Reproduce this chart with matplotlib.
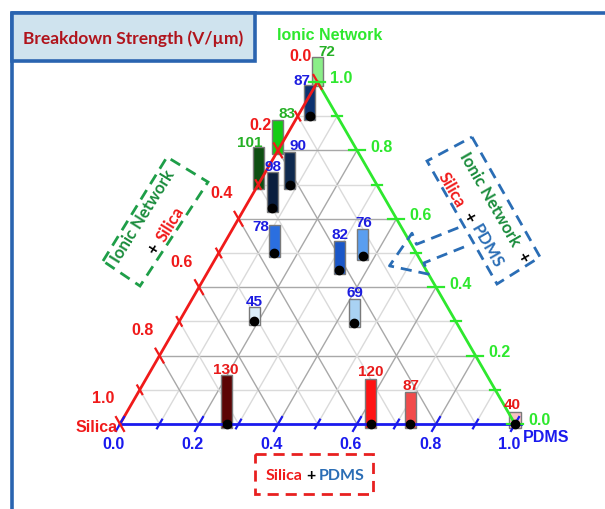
import numpy as np
import matplotlib
matplotlib.use("Agg")
import matplotlib.pyplot as plt
from matplotlib.patches import Rectangle, Polygon

# ---- data: composition fractions (silica, PDMS, ionic network) and breakdown strength ----
silica_green = [0.00, 0.20, 0.30]
pdms_green = [0.00, 0.00, 0.00]
ionic_green = [1.00, 0.80, 0.70]
value_green = [72, 83, 101]

silica_blue = [0.07, 0.30, 0.22, 0.36, 0.22, 0.14, 0.51, 0.26]
pdms_blue = [0.03, 0.07, 0.08, 0.14, 0.33, 0.37, 0.19, 0.445]
ionic_blue = [0.90, 0.63, 0.70, 0.50, 0.45, 0.49, 0.30, 0.295]
value_blue = [87, 98, 90, 78, 82, 76, 45, 69]

silica_red = [0.73, 0.365, 0.265, 0.00]
pdms_red = [0.27, 0.635, 0.735, 1.00]
ionic_red = [0.00, 0.00, 0.00, 0.00]
value_red = [130, 120, 87, 40]

tick_values = [0.0, 0.2, 0.4, 0.6, 0.8, 1.0]

# ---- styling ----
bar_colors_green = ["#8aee88", "#14cc14", "#0e4f12"]
bar_colors_blue = ["#0c3270", "#0a1e3e", "#0f2a4f", "#2b6fe0", "#1a57c8", "#5a9ef0", "#dbeefa", "#a9d2f3"]
bar_colors_red = ["#5c0505", "#ff1414", "#f24b4b", "#f7c2c2"]
# label nudges in pixels (dx, dy) relative to the top centre of each bar
nudge_green = [(9, -6), (9, -7), (-8, -5)]
nudge_blue = [(-8, -5), (1, -6), (8, -7), (-13, 1), (1, -7), (1, -7), (0, -6), (1, -7)]
nudge_red = [(-1, -6), (0, -8), (1, -7), (-3, -8)]

C_RED = "#f01a1a"
C_GREEN = "#2ee82e"
C_BLUE = "#1a1aee"
C_DKGREEN = "#1a8c3c"
C_STEEL = "#2a6db5"
C_FRAME = "#2a64b0"
NUM_FONT = "Liberation Sans"
TXT_FONT = "Lato"
NUM_SIZE = 11.5
VAL_SIZE = 11
BOX_SIZE = 12

W, H = 605, 510
X0, Y0, S = 120, 425, 395.0  # pixel position of the Silica corner and side length
SQ = np.sqrt(3) / 2

fig = plt.figure(figsize=(W / 100, H / 100), dpi=100)
ax = fig.add_axes([0, 0, 1, 1])
ax.set_xlim(-X0 / S, (W - X0) / S)
ax.set_ylim(-(H - Y0) / S, Y0 / S)
ax.axis("off")


def P(px, py):
    """pixel position (from top-left) to data coordinates"""
    return ((px - X0) / S, (Y0 - py) / S)


def tern(s, p, i):
    return (p + 0.5 * i, i * SQ)


# ---- frame and title ----
fl = [P(12, 520), P(12, 14), P(620, 14)]
ax.plot([q[0] for q in fl], [q[1] for q in fl], color=C_FRAME, lw=2.6, zorder=1)
tb = [P(12, 14), P(255, 14), P(255, 62), P(12, 62)]
ax.add_patch(Polygon(tb, closed=True, facecolor="#cfe3ee", edgecolor=C_FRAME, lw=2.6, zorder=2))
ax.text(*P(133, 39), "Breakdown Strength (V/\u00b5m)", color="#b0141c", fontsize=12.5,
        fontweight="bold", family=TXT_FONT, ha="center", va="center", zorder=3)

# ---- grid ----
for k in range(1, 10):
    t = k / 10
    col = "#a8a8a8" if k % 2 == 0 else "#dadada"
    segs = [
        (tern(1 - t, 0, t), tern(0, 1 - t, t)),
        (tern(1 - t, t, 0), tern(0, t, 1 - t)),
        (tern(t, 1 - t, 0), tern(t, 0, 1 - t)),
    ]
    for a, b in segs:
        ax.plot([a[0], b[0]], [a[1], b[1]], color=col, lw=1.0, zorder=3)

# ---- bars ----
bar_w = 11 / S
bar_k = 1 / (2.45 * S)
drop = 4 / S


def draw_series(sil, pdm, ion, vals, cols, nudges, txtcol, dots):
    for s, p, i, v, c, (dx, dy) in zip(sil, pdm, ion, vals, cols, nudges):
        x, y = tern(s, p, i)
        h = v * bar_k
        ax.add_patch(Rectangle((x - bar_w / 2, y - drop), bar_w, h, facecolor=c,
                               edgecolor="#7a7a7a", lw=1.0, zorder=5))
        if dots:
            ax.plot(x, y, "o", color="black", ms=6, zorder=9)
        top = y - drop + h
        ax.text(x + dx / S, top - dy / S, f"{v}", color=txtcol, fontsize=VAL_SIZE, fontweight="bold",
                family=NUM_FONT, ha="center", va="center", zorder=10)


draw_series(silica_green, pdms_green, ionic_green, value_green, bar_colors_green, nudge_green, "#25b025", False)
draw_series(silica_blue, pdms_blue, ionic_blue, value_blue, bar_colors_blue, nudge_blue, "#1c1ce0", True)
draw_series(silica_red, pdms_red, ionic_red, value_red, bar_colors_red, nudge_red, "#e81a1a", True)

# ---- axes of the triangle ----
A, B, T = tern(1, 0, 0), tern(0, 1, 0), tern(0, 0, 1)
ax.plot([A[0], B[0] + 0.015], [A[1], B[1]], color=C_BLUE, lw=2, zorder=7)
ax.plot([A[0], T[0]], [A[1], T[1]], color=C_RED, lw=2, zorder=7)
ax.plot([B[0], T[0]], [B[1], T[1]], color=C_GREEN, lw=2, zorder=7)

for k in range(0, 11):
    v = k / 10
    half = (8 if k % 2 == 0 else 5) / S
    # bottom (PDMS)
    d = np.array([0.5, SQ])
    c = np.array(tern(1 - v, v, 0))
    ax.plot(*zip(c - half * d, c + half * d), color=C_BLUE, lw=1.6, zorder=7)
    # right (ionic network)
    d = np.array([1.0, 0.0])
    c = np.array(tern(0, 1 - v, v))
    ax.plot(*zip(c - half * d, c + half * d), color=C_GREEN, lw=1.6, zorder=7)
    # left (silica)
    d = np.array([-0.5, SQ])
    c = np.array(tern(v, 0, 1 - v))
    ax.plot(*zip(c - half * d, c + half * d), color=C_RED, lw=1.6, zorder=7)

for v in tick_values:
    lab = f"{v:.1f}"
    x, y = tern(1 - v, v, 0)
    ax.text(x - 6 / S, y - 20 / S, lab, color=C_BLUE, fontsize=NUM_SIZE, fontweight="bold",
            family=NUM_FONT, ha="center", va="center", zorder=10)
    x, y = tern(0, 1 - v, v)
    ax.text(x + 13 / S, y + 4 / S, lab, color=C_GREEN, fontsize=NUM_SIZE, fontweight="bold",
            family=NUM_FONT, ha="left", va="center", zorder=10)
    x, y = tern(v, 0, 1 - v)
    ax.text(x - 17 / S, y + 26 / S, lab, color=C_RED, fontsize=NUM_SIZE, fontweight="bold",
            family=NUM_FONT, ha="center", va="center", zorder=10)

ax.text(*P(330, 36), "Ionic Network", color=C_GREEN, fontsize=NUM_SIZE, fontweight="bold",
        family=NUM_FONT, ha="center", va="center", zorder=10)
ax.text(*P(118, 428), "Silica", color=C_RED, fontsize=NUM_SIZE, fontweight="bold",
        family=NUM_FONT, ha="right", va="center", zorder=10)
ax.text(*P(523, 438), "PDMS", color=C_BLUE, fontsize=NUM_SIZE, fontweight="bold",
        family=NUM_FONT, ha="left", va="center", zorder=10)

# ---- annotation boxes ----
dash = dict(lw=2, linestyle=(0, (4, 2.5)), zorder=8)
box_txt = dict(fontsize=BOX_SIZE, fontweight="bold", family=TXT_FONT, ha="center",
               va="center", rotation_mode="anchor", zorder=10)

left_box = [P(103, 262), P(167, 158), P(208, 183), P(140, 287)]
ax.add_patch(Polygon(left_box, closed=True, fill=False, edgecolor="#1e9e48", **dash))
ax.text(*P(143, 216), "Ionic Network", color=C_DKGREEN, rotation=58, **box_txt)
ax.text(*P(153, 249), "+", color="black", rotation=58, **box_txt)
ax.text(*P(170, 224), "Silica", color=C_RED, rotation=58, **box_txt)

right_box = [P(472, 138), P(540, 258), P(497, 285), P(427, 162)]
ax.add_patch(Polygon(right_box, closed=True, fill=False, edgecolor=C_STEEL, **dash))
u = np.array([-0.93, 0.37])
vv = np.array([0.37, 0.93])
c0 = np.array([462.0, 238.0])
arrow_px = [c0 - 10 * vv, c0 + 45 * u - 10 * vv, c0 + 45 * u - 22 * vv, c0 + 78 * u,
            c0 + 45 * u + 22 * vv, c0 + 45 * u + 10 * vv, c0 + 10 * vv]
arrow = [P(*q) for q in arrow_px]
ax.plot([q[0] for q in arrow], [q[1] for q in arrow], color=C_STEEL, **dash)

ax.text(*P(490, 199), "Ionic Network", color=C_DKGREEN, rotation=-60, **box_txt)
ax.text(*P(523, 257), "+", color="black", rotation=-60, **box_txt)
ax.text(*P(451, 190), "Silica", color=C_RED, rotation=-60, **box_txt)
ax.text(*P(469, 217), "+", color="black", rotation=-60, **box_txt)
ax.text(*P(487, 246), "PDMS", color=C_STEEL, rotation=-60, **box_txt)

bottom_box = [P(255, 455), P(373, 455), P(373, 495), P(255, 495)]
ax.add_patch(Polygon(bottom_box, closed=True, fill=False, edgecolor="#e82020", **dash))
bt = dict(fontsize=11.5, fontweight="bold", family=TXT_FONT, va="center", zorder=10)
ax.text(*P(302, 476), "Silica", color=C_RED, ha="right", **bt)
ax.text(*P(311, 476), "+", color="black", ha="center", **bt)
ax.text(*P(319, 476), "PDMS", color=C_STEEL, ha="left", **bt)

fig.savefig("out.png", dpi=100)
